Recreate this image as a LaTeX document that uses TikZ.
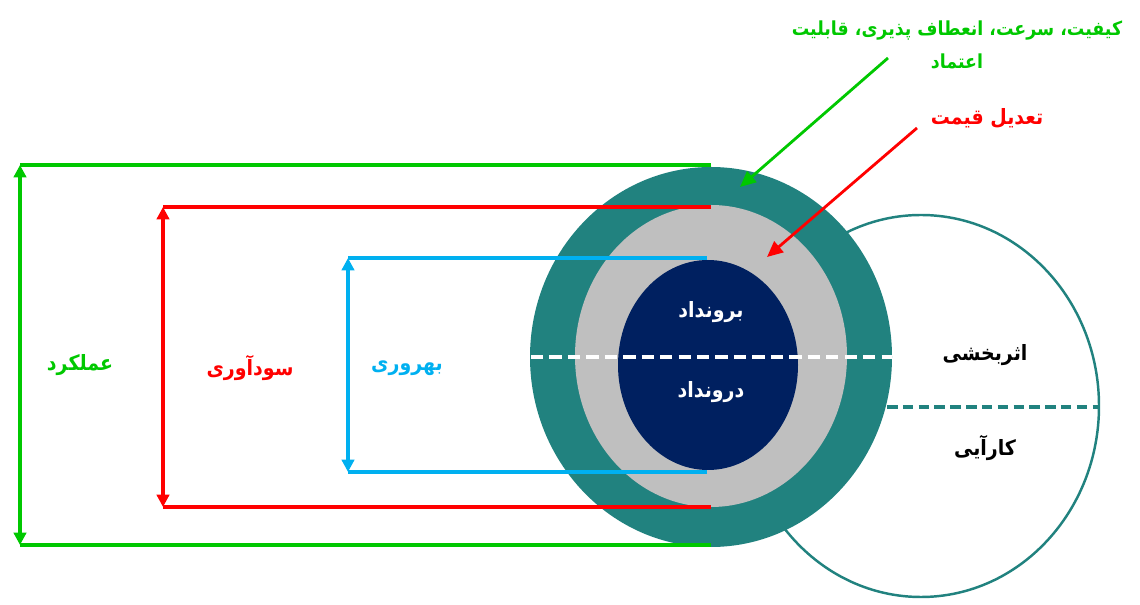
\documentclass[tikz,border=0pt]{standalone}
\usepackage{fontspec}
\usetikzlibrary{arrows.meta}
\newfontfamily\farsi[Script=Arabic, FakeStretch=0.9]{DejaVu Sans}
\TeXXeTstate=1
\definecolor{ringteal}{HTML}{21827F}
\definecolor{ringgray}{HTML}{BFBFBF}
\definecolor{coreblue}{HTML}{002060}
\definecolor{linegreen}{HTML}{00C800}
\definecolor{linered}{HTML}{FF0000}
\definecolor{lineblue}{HTML}{00B0F0}
\tikzset{
  txt/.style = {font=\farsi\bfseries\fontsize{12}{19}\selectfont, inner sep=1pt},
  bracket/.style = {line width=2pt},
  tips/.style = {{Triangle[length=7pt,width=7pt]}-{Triangle[length=7pt,width=7pt]}},
  pointer/.style = {line width=1.6pt, -{Triangle[length=9pt,width=8pt]}}
}

\begin{document}
\begin{tikzpicture}[x=0.02cm, y=0.02cm]
\useasboundingbox (0,0) rectangle (1140,605);
% right circle behind the rings
\draw [ringteal, line width=1.4pt, fill=white] (921,199) ellipse [x radius=178, y radius=191];
\draw [ringteal, line width=2pt, dash pattern=on 6pt off 3pt] (887,198) -- (1099,198);
% rings
\fill [ringteal] (711,248) ellipse [x radius=181, y radius=190];
\fill [ringgray] (711,249) ellipse [x radius=136, y radius=151];
\fill [coreblue] (708,240) ellipse [x radius=90, y radius=105];
\draw [white, line width=1.8pt, dash pattern=on 7pt off 3.5pt] (531,248) -- (892,248);

% labels in the circles
\node [txt, text=white] (out) at (711,293) {\beginR برونداد\endR};
\node [txt, text=white] (in) at (711,213) {\beginR درونداد\endR};
\node [txt] (eff) at (985,250) {\beginR اثربخشی\endR};
\node [txt] (effi) at (985,157) {\beginR کارآیی\endR};

% green bracket
\coordinate (gTL) at (20,440); \coordinate (gTR) at (711,440);
\coordinate (gBL) at (20,60); \coordinate (gBR) at (711,60);
\draw [bracket, linegreen] (gTR) -- (gTL);
\draw [bracket, linegreen] (gBR) -- (gBL);
\draw [bracket, linegreen, tips] (gTL) -- (gBL);
\node [txt, text=linegreen] (perf) at (80,240) {\beginR عملکرد\endR};

% red bracket
\coordinate (rTL) at (163,398); \coordinate (rTR) at (711,398);
\coordinate (rBL) at (163,98); \coordinate (rBR) at (711,98);
\draw [bracket, linered] (rTR) -- (rTL);
\draw [bracket, linered] (rBR) -- (rBL);
\draw [bracket, linered, tips] (rTL) -- (rBL);
\node [txt, text=linered] (prof) at (250,237) {\beginR سودآوری\endR};

% blue bracket
\coordinate (bTL) at (348,347); \coordinate (bTR) at (707,347);
\coordinate (bBL) at (348,133); \coordinate (bBR) at (707,133);
\draw [bracket, lineblue] (bTR) -- (bTL);
\draw [bracket, lineblue] (bBR) -- (bBL);
\draw [bracket, lineblue, tips] (bTL) -- (bBL);
\node [txt, text=lineblue] (prod) at (407,237) {\beginR بهروری\endR};

% notes with arrows
\node [txt, text=linegreen, align=center, font=\farsi\bfseries\fontsize{11}{19}\selectfont] (qual) at (957,560)
  {\beginR کیفیت، سرعت، انعطاف پذیری، قابلیت\endR\\ \beginR اعتماد\endR};
\node [txt, text=linered] (price) at (987,487) {\beginR تعدیل قیمت\endR};
\coordinate (gTail) at (888,547); \coordinate (gTip) at (740,418);
\coordinate (rTail) at (917,477); \coordinate (rTip) at (767,348);
\draw [pointer, linegreen] (gTail) -- (gTip);
\draw [pointer, linered] (rTail) -- (rTip);
\end{tikzpicture}
\end{document}
